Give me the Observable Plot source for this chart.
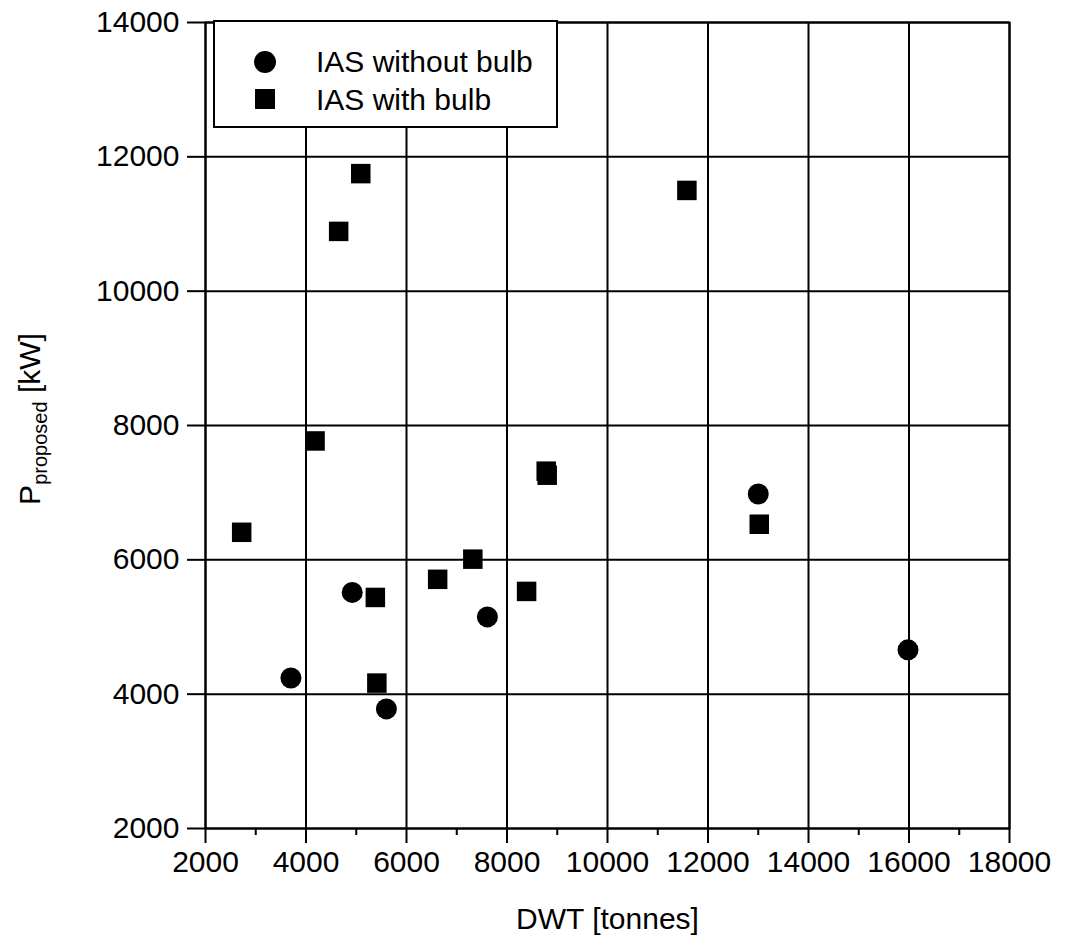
<!DOCTYPE html>
<html><head><meta charset="utf-8">
<script src="https://cdn.jsdelivr.net/npm/d3@7"></script>
<script src="https://cdn.jsdelivr.net/npm/@observablehq/plot@0.6"></script>
<style>body{margin:0;background:#fff}</style>
</head><body><div id="chart"></div>
<script>
const xTicks = [2000, 4000, 6000, 8000, 10000, 12000, 14000, 16000, 18000];
const xMinorTicks = [3000, 5000, 7000, 9000, 11000, 13000, 15000, 17000];
const yTicks = [2000, 4000, 6000, 8000, 10000, 12000, 14000];

const seriesNames = ["IAS without bulb", "IAS with bulb"];
const withoutBulbDWT = [3700, 4920, 5600, 7610, 13000, 15980];
const withoutBulbP   = [4240, 5515, 3780, 5150, 6980, 4660];
const withBulbDWT = [2720, 4180, 4650, 5090, 5380, 5410, 6620, 7320, 8390, 8780, 8800, 11580, 13020];
const withBulbP   = [6410, 7770, 10890, 11750, 5440, 4165, 5710, 6010, 5530, 7320, 7260, 11500, 6530];

const withoutData = withoutBulbDWT.map((d, i) => ({dwt: d, p: withoutBulbP[i]}));
const withData = withBulbDWT.map((d, i) => ({dwt: d, p: withBulbP[i]}));

const svg = Plot.plot({
  width: 1069, height: 948,
  marginLeft: 205, marginRight: 60, marginTop: 22, marginBottom: 120,
  style: {fontFamily: "'Liberation Sans', Arial, sans-serif", fontSize: "30px", color: "#000", background: "#fff"},
  x: {domain: [2000, 18000]},
  y: {domain: [2000, 14000]},
  marks: [
    Plot.gridX(xTicks, {stroke: "#000", strokeOpacity: 1, strokeWidth: 2}),
    Plot.gridY(yTicks, {stroke: "#000", strokeOpacity: 1, strokeWidth: 2}),
    Plot.frame({stroke: "#000", strokeWidth: 2}),
    Plot.axisX(xTicks, {tickSize: 15, tickPadding: 7, strokeWidth: 2, tickFormat: d => String(d),
      label: "DWT [tonnes]", labelAnchor: "center", labelArrow: "none", labelOffset: 100}),
    Plot.axisX(xMinorTicks, {tickSize: 7, strokeWidth: 2, tickFormat: () => "", label: null}),
    Plot.axisY(yTicks, {tickSize: 18, tickPadding: 8, strokeWidth: 2, tickFormat: d => String(d), label: null}),
    Plot.dot(withoutData, {x: "dwt", y: "p", r: 10.5, fill: "#000", symbol: "circle"}),
    Plot.dot(withData, {x: "dwt", y: "p", r: 11, fill: "#000", symbol: "square"})
  ]
});

const s = d3.select(svg);
// Y axis title with subscript
const yt = s.append("text")
  .attr("transform", "translate(40,419) rotate(-90)")
  .attr("text-anchor", "middle")
  .attr("font-size", 30)
  .attr("fill", "#000");
yt.append("tspan").text("P");
yt.append("tspan").attr("font-size", 20).attr("dy", 7).text("proposed");
yt.append("tspan").attr("dy", -7).text(" [kW]");

// Legend
const lg = s.append("g").attr("text-anchor", "start");
lg.append("rect").attr("x", 214).attr("y", 21).attr("width", 343).attr("height", 106)
  .attr("fill", "#fff").attr("stroke", "#000").attr("stroke-width", 2);
lg.append("circle").attr("cx", 265).attr("cy", 62).attr("r", 11).attr("fill", "#000");
lg.append("rect").attr("x", 255).attr("y", 89).attr("width", 20).attr("height", 20).attr("fill", "#000");
lg.append("text").attr("x", 316).attr("y", 72).attr("font-size", 30).attr("text-anchor", "start").attr("fill", "#000").text(seriesNames[0]);
lg.append("text").attr("x", 316).attr("y", 110).attr("font-size", 30).attr("text-anchor", "start").attr("fill", "#000").text(seriesNames[1]);

document.getElementById("chart").append(svg);
</script>
</body></html>
